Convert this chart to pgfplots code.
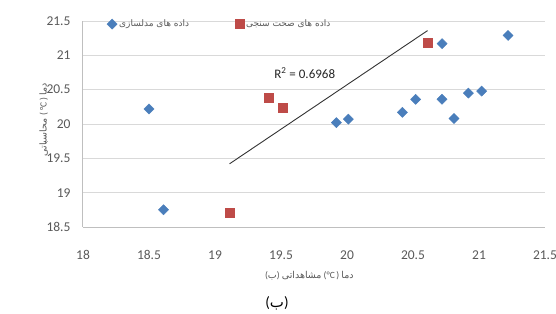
\documentclass[border=0pt]{standalone}
\usepackage{pgfplots}
\pgfplotsset{compat=1.18}
\usepackage{fontspec}
\setmainfont{Carlito}
\newfontfamily\arabicfont[Script=Arabic]{DejaVu Sans}
\TeXXeTstate=1
\newcommand{\ar}[1]{{\arabicfont\beginR #1\endR}}
\definecolor{sblue}{HTML}{4A7EBB}
\definecolor{sred}{HTML}{BE4B48}
\definecolor{tickgray}{HTML}{595959}
\definecolor{gridgray}{HTML}{D9D9D9}
\definecolor{axgray}{HTML}{BFBFBF}
\begin{document}
\begin{tikzpicture}
\path[use as bounding box] (-83pt,-86pt) rectangle (473pt,227pt);
\begin{axis}[
  scale only axis, width=462pt, height=206pt,
  xmin=18, xmax=21.5, ymin=18.5, ymax=21.5,
  xtick={18,18.5,...,21.5}, ytick={18.5,19,...,21.5},
  ymajorgrids, grid style={gridgray, line width=0.8pt},
  axis x line=bottom, axis y line=left,
  axis line style={-, axgray, line width=1pt},
  major tick length=0pt,
  /pgf/number format/assume math mode=true,
  ticklabel style={font=\fontsize{13.5}{13.5}\selectfont, text=tickgray},
  xticklabel style={yshift=-20pt},
  yticklabel style={xshift=-9pt},
  xlabel={(\ar{ب}) \ar{مشاهداتی} (°C\,) \ar{دما}},
  ylabel={\ar{محاسباتی} ( °C ) \ar{دما}},
  label style={font=\fontsize{9.5}{9.5}\selectfont, text=tickgray},
  xlabel style={at={(axis description cs:0.49,-0.235)}, anchor=center},
  ylabel style={at={(axis description cs:-0.085,0.52)}, anchor=center},
  legend columns=2,
  legend style={at={(axis description cs:0.045,0.985)}, anchor=west, draw=none, fill=none,
    font=\fontsize{9}{9}\selectfont, text=tickgray,
    /tikz/every even column/.append style={column sep=44pt}},
  legend cell align=left,
  clip=false,
]
\addplot[only marks, mark=square*, mark options={rotate=45, fill=sblue, draw=sblue}, mark size=3.6pt] coordinates {
(18.50,20.22) (18.61,18.75) (19.92,20.02) (20.01,20.07) (20.42,20.17) (20.52,20.36)
(20.72,20.36) (20.72,21.17) (20.81,20.08) (20.92,20.45) (21.02,20.48) (21.22,21.29)
};
\addlegendentry{\ar{داده های مدلسازی}}
\addplot[only marks, mark=square*, mark options={fill=sred, draw=sred}, mark size=4.5pt] coordinates {
(19.11,18.71) (19.41,20.39) (19.51,20.24) (20.61,21.18)
};
\addlegendentry{\ar{داده های صحت سنجی}}
\addplot[black!80, line width=0.9pt, forget plot] coordinates {(19.11,19.42) (20.61,21.36)};
\node[font=\fontsize{13}{13}\selectfont, text=black!85] at (axis cs:19.68,20.74) {R\textsuperscript{2} = 0.6968};
\node[font=\fontsize{15}{15}\selectfont, text=black] at (axis description cs:0.42,-0.37) {(\ar{ب})};
\end{axis}
\end{tikzpicture}
\end{document}
